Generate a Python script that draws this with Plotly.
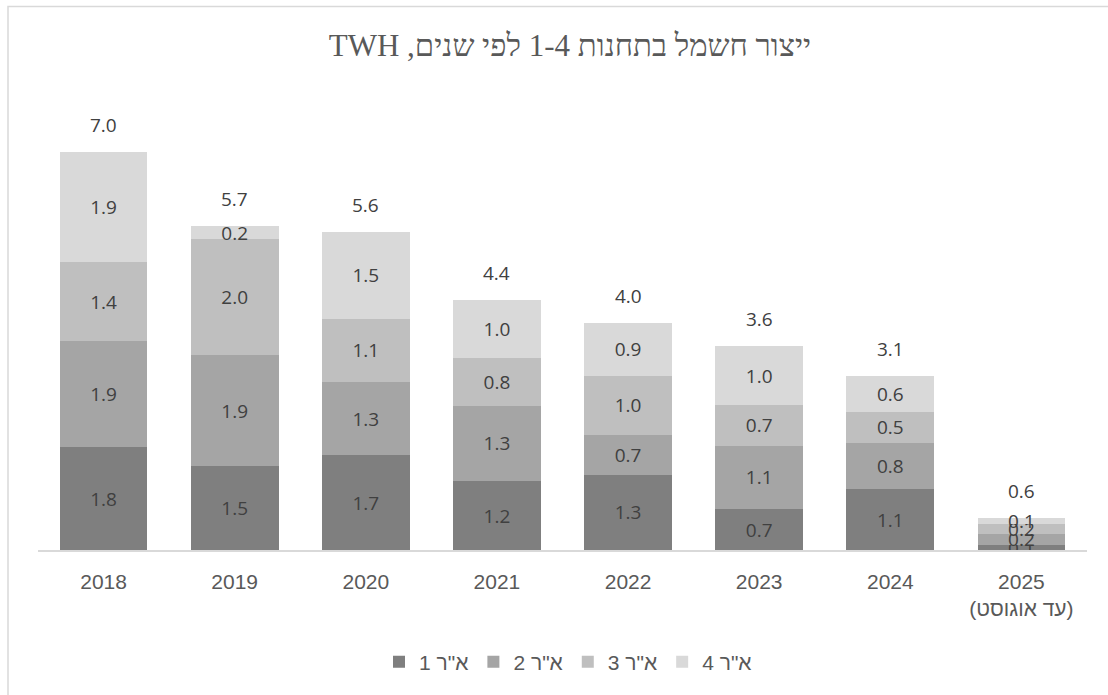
import plotly.graph_objects as go

years = ["2018", "2019", "2020", "2021", "2022", "2023", "2024", "2025<br>(עד אוגוסט)"]
series_names = ['א"ר 1', 'א"ר 2', 'א"ר 3', 'א"ר 4']
unit1 = [1.81, 1.48, 1.67, 1.21, 1.32, 0.72, 1.07, 0.08]
unit2 = [1.86, 1.94, 1.28, 1.33, 0.71, 1.11, 0.82, 0.21]
unit3 = [1.39, 2.04, 1.12, 0.84, 1.03, 0.72, 0.54, 0.16]
unit4 = [1.93, 0.23, 1.53, 1.02, 0.94, 1.03, 0.63, 0.12]
colors = ["#7f7f7f", "#a5a5a5", "#bfbfbf", "#d9d9d9"]
title_text = "ייצור חשמל בתחנות 1-4 לפי שנים, TWH"

num_font = "Open Sans, Noto Sans, sans-serif"
lab_font = "Liberation Sans, Arial, sans-serif"

fig = go.Figure()
for name, vals, col in zip(series_names, [unit1, unit2, unit3, unit4], colors):
    fig.add_trace(go.Bar(
        x=years, y=vals, name=name, marker=dict(color=col, line=dict(width=0)),
        text=vals, texttemplate="%{y:.1f}", textposition="inside",
        insidetextanchor="middle", textangle=0,
        textfont=dict(family=num_font, size=19, color="#404040"),
        hoverinfo="skip",
    ))

totals = [a + b + c + d for a, b, c, d in zip(unit1, unit2, unit3, unit4)]
for i, t in enumerate(totals):
    fig.add_annotation(x=i, y=t, xref="x", yref="y", text=f"{t:.1f}", showarrow=False,
                       yanchor="bottom", yshift=12,
                       font=dict(family=num_font, size=19, color="#404040"))

L, R, T, B = 38, 21, 95, 145
W, H = 1108, 695
pw, ph = W - L - R, H - T - B

fig.add_shape(type="rect", xref="paper", yref="paper",
              x0=(8 - L) / pw, x1=(1125 - L) / pw,
              y0=(H - B - 715) / ph, y1=(H - B - 6.5) / ph,
              line=dict(color="#d9d9d9", width=1.5), layer="below")

fig.update_layout(
    width=W, height=H,
    margin=dict(l=L, r=R, t=T, b=B, pad=0),
    barmode="stack", bargap=0.33,
    paper_bgcolor="white", plot_bgcolor="white",
    title=dict(text="\u202B" + title_text + "\u202C", x=570 / W, xanchor="center",
               y=1 - 45 / H, yanchor="middle",
               font=dict(family="Liberation Serif, Times New Roman, serif", size=31, color="#595959")),
    uniformtext=dict(mode="show", minsize=19),
    legend=dict(orientation="h", x=(568 - L) / pw, xanchor="center",
                y=(H - B - 662) / ph, yanchor="middle", traceorder="normal",
                font=dict(family=lab_font, size=21, color="#595959")),
    showlegend=True,
)
fig.update_xaxes(type="category", range=[-0.5, 7.5], showline=True, linecolor="#d9d9d9",
                 linewidth=1.5, ticks="", ticklabelstandoff=12,
                 tickfont=dict(family=lab_font, size=21, color="#595959"),
                 showgrid=False, zeroline=False)
fig.update_yaxes(range=[0, 8], visible=False, showgrid=False, zeroline=False)

fig.write_html("out.html")
